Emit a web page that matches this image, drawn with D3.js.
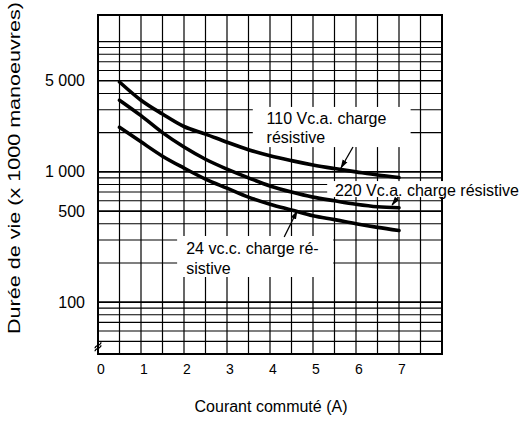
<!DOCTYPE html>
<html><head><meta charset="utf-8">
<script src="https://cdn.jsdelivr.net/npm/d3@7/dist/d3.min.js"></script>
<style>body{margin:0;background:#fff}svg{display:block}text{font-family:"Liberation Sans",Arial,sans-serif;fill:#000}</style>
</head><body><svg id="c" width="519" height="424"></svg>
<script>
// ---- data ----
const currents = [0.5,1,1.5,2,2.5,3,3.5,4,4.5,5,5.5,6,6.5,7];
const life110 = [4900,3550,2780,2230,1950,1690,1480,1330,1220,1130,1060,1000,945,905];
const life220 = [3550,2700,2000,1550,1250,1050,900,780,700,640,600,565,540,530];
const life24  = [2200,1700,1320,1070,880,750,640,565,510,460,430,400,375,355];
const xTicks = [0,1,2,3,4,5,6,7];
const yTicks = [100,500,1000,5000];
const yTickLabels = ["100","500","1 000","5 000"];
const xTitle = "Courant commuté (A)";
const yTitle = "Durée de vie (x 1000 manoeuvres)";
const seriesNames = ["110 Vc.a. charge résistive","220 Vc.a. charge résistive","24 vc.c. charge résistive"];

const svg = d3.select("#c");
const x = d3.scaleLinear().domain([0,8]).range([98,442]);
const y = d3.scaleLog().domain([40,16000]).range([354,15]);

// grid
const vGrid = d3.range(0.5,8,0.5);
const hGrid = [];
[10,100,1000].forEach(d=>{for(let k=1;k<10;k++){const v=d*k; if(v>=50) hGrid.push(v);}});
hGrid.push(10000);
const g = svg.append("g");
g.selectAll(".v").data(vGrid).join("line")
 .attr("x1",d=>x(d)).attr("x2",d=>x(d)).attr("y1",y(16000)).attr("y2",y(40))
 .attr("stroke","#000").attr("stroke-width",1.2);
g.selectAll(".h").data(hGrid).join("line")
 .attr("x1",x(0)).attr("x2",x(8)).attr("y1",d=>y(d)).attr("y2",d=>y(d))
 .attr("stroke","#000").attr("stroke-width",d=>[100,500,1000,5000].includes(d)?1.6:1.1);
g.append("rect").attr("x",x(0)).attr("y",y(16000)).attr("width",x(8)-x(0)).attr("height",y(40)-y(16000))
 .attr("fill","none").attr("stroke","#000").attr("stroke-width",2);

// white label boxes (data coords)
const boxes = [
  {x0:3.6,x1:7.27,v0:3150,v1:1550},
  {x0:5.33,x1:10,v0:850,v1:641},
  {x0:1.84,x1:5.47,v0:322,v1:156}
];
svg.selectAll(".box").data(boxes).join("rect")
 .attr("x",d=>x(d.x0)).attr("width",d=>x(d.x1)-x(d.x0))
 .attr("y",d=>y(d.v0)).attr("height",d=>y(d.v1)-y(d.v0)).attr("fill","#fff");

// curves
const line = d3.line().x(d=>x(d[0])).y(d=>y(d[1])).curve(d3.curveMonotoneX);
[life110,life220,life24].forEach(s=>{
  svg.append("path").attr("d",line(currents.map((c,i)=>[c,s[i]])))
   .attr("fill","none").attr("stroke","#000").attr("stroke-width",3.6).attr("stroke-linecap","round");
});

// leaders
svg.append("defs").append("marker").attr("id","ah").attr("viewBox","0 0 10 10")
 .attr("refX",9).attr("refY",5).attr("markerWidth",7).attr("markerHeight",7).attr("orient","auto")
 .append("path").attr("d","M0,2 L10,5 L0,8 Z").attr("fill","#000");
const leaders = [
  {x0:5.93,v0:1552,x1:5.65,v1:1071},
  {x0:6.98,v0:641,x1:6.84,v1:557},
  {x0:4.33,v0:316,x1:4.63,v1:501}
];
svg.selectAll(".ld").data(leaders).join("line")
 .attr("x1",d=>x(d.x0)).attr("y1",d=>y(d.v0)).attr("x2",d=>x(d.x1)).attr("y2",d=>y(d.v1))
 .attr("stroke","#000").attr("stroke-width",1.3).attr("marker-end","url(#ah)");

// label texts
const labels = [
  {t:"110 Vc.a. charge",x:3.92,v:2590},
  {t:"résistive",x:3.92,v:1850},
  {t:seriesNames[1],x:5.51,v:726},
  {t:"24 vc.c. charge ré-",x:2.05,v:260},
  {t:"sistive",x:2.05,v:183}
];
svg.selectAll(".lb").data(labels).join("text")
 .attr("x",d=>x(d.x)).attr("y",d=>y(d.v)).attr("dy","0.35em")
 .attr("font-size",16).text(d=>d.t);

// ticks
svg.selectAll(".xt").data(xTicks).join("text")
 .attr("x",d=>x(d)+3).attr("y",369).attr("dy","0.35em").attr("text-anchor","middle")
 .attr("font-size",14).text(d=>d);
svg.selectAll(".yt").data(yTicks).join("text")
 .attr("x",85).attr("y",d=>y(d)).attr("dy","0.35em").attr("text-anchor","end")
 .attr("font-size",16).text((d,i)=>yTickLabels[i]);

// axis break mark
const bx=x(0), by=y(45);
svg.append("path").attr("d",`M${bx-3},${by+4} C${bx-3},${by} ${bx+3},${by+2} ${bx+3},${by-2} M${bx-3},${by+1} C${bx-3},${by-3} ${bx+3},${by-1} ${bx+3},${by-5}`)
 .attr("fill","none").attr("stroke","#000").attr("stroke-width",1.2);

// titles
svg.append("text").attr("x",271).attr("y",406).attr("dy","0.35em").attr("text-anchor","middle")
 .attr("font-size",16).text(xTitle);
svg.append("text").attr("transform","translate(14,168) rotate(-90)").attr("dy","0.35em")
 .attr("text-anchor","middle").attr("font-size",17)
 .attr("textLength",332).attr("lengthAdjust","spacingAndGlyphs").text(yTitle);
</script></body></html>
